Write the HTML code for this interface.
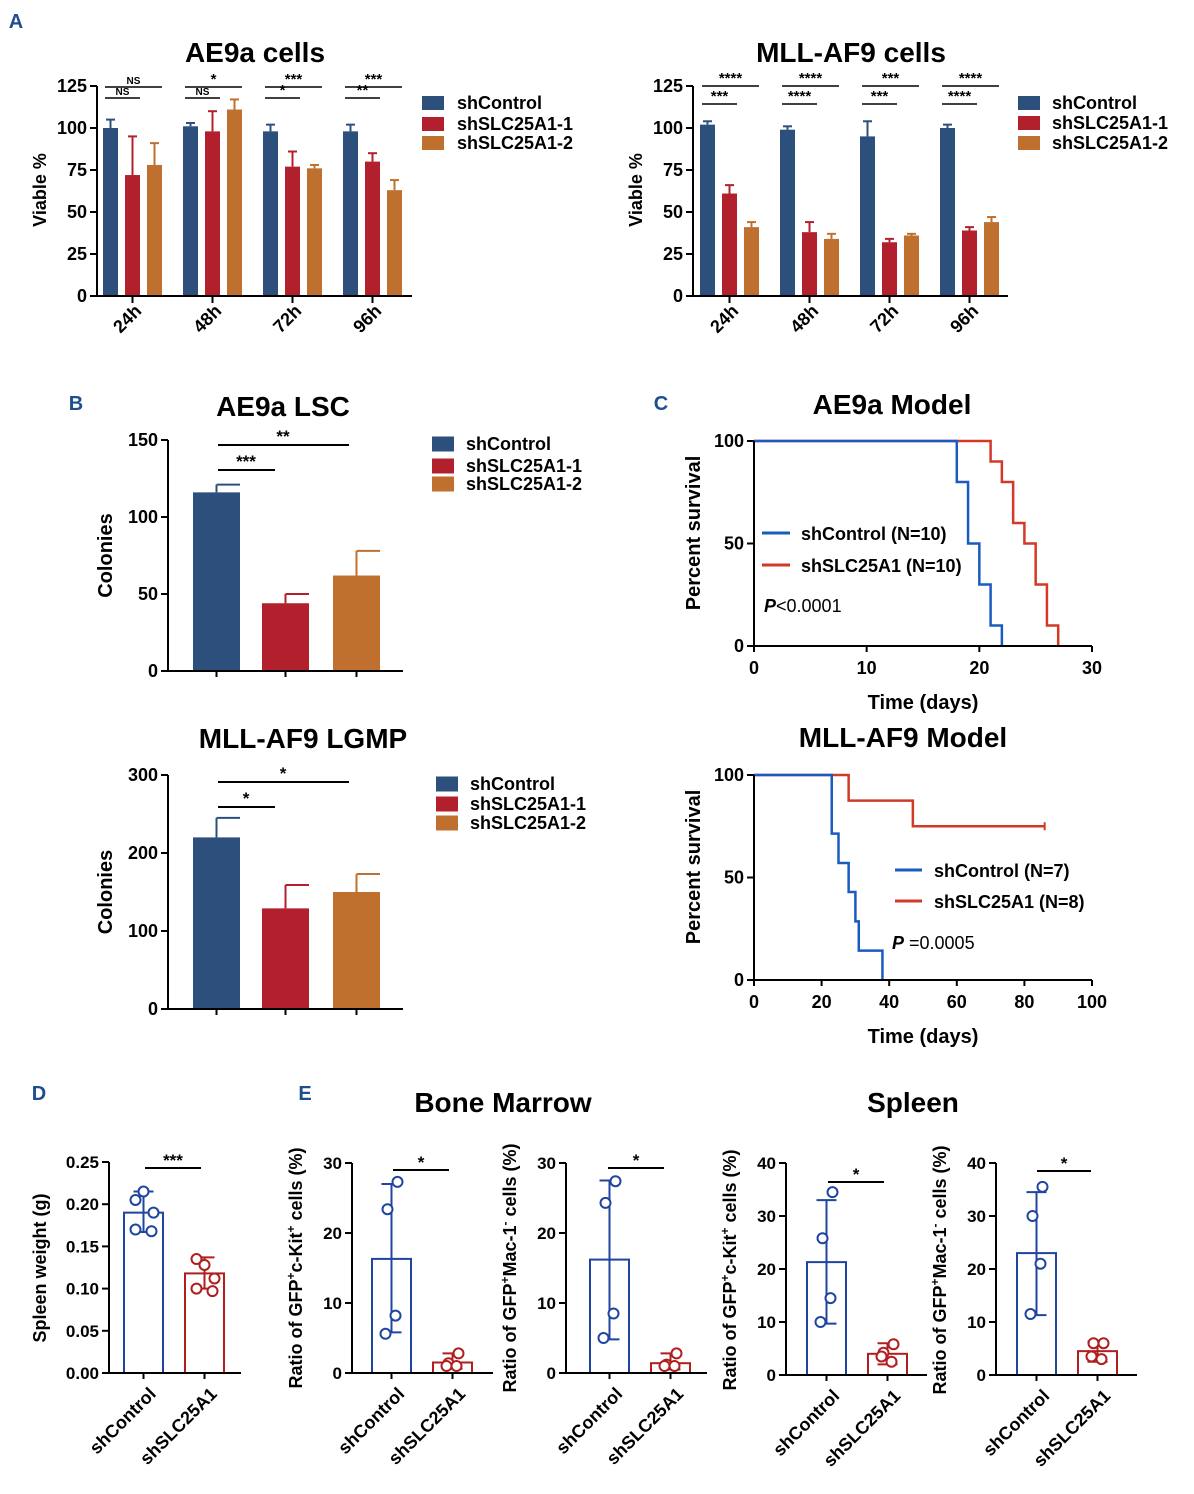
<!DOCTYPE html>
<html><head><meta charset="utf-8">
<style>
body{margin:0;background:#fff;}
svg{display:block;font-family:"Liberation Sans",Arial,sans-serif;font-weight:bold;}
</style></head>
<body>
<svg id="fig" width="1194" height="1494" viewBox="0 0 1194 1494" xmlns="http://www.w3.org/2000/svg"></svg>
<script>
// ---------- DATA ----------
const timeCats = ['24h','48h','72h','96h'];
const seriesNames = ['shControl','shSLC25A1-1','shSLC25A1-2'];
const aeCtrl = [100,101,98,98];       const aeCtrlErr = [105,103,102,102];
const aeSh1  = [72,98,77,80];         const aeSh1Err  = [95,110,86,85];
const aeSh2  = [78,111,76,63];        const aeSh2Err  = [91,117,78,69];
const mlCtrl = [102,99,95,100];       const mlCtrlErr = [104,101,104,102];
const mlSh1  = [61,38,32,39];         const mlSh1Err  = [66,44,34,41];
const mlSh2  = [41,34,36,44];         const mlSh2Err  = [44,37,37,47];
const viaTicks = [0,25,50,75,100,125];
// significance: [group, fromSeries, toSeries, level, label]
const aeSig = [[0,0,2,1,'NS'],[0,0,1,0,'NS'],[1,0,2,1,'*'],[1,0,1,0,'NS'],[2,0,2,1,'***'],[2,0,1,0,'*'],[3,0,2,1,'***'],[3,0,1,0,'**']];
const mlSig = [[0,0,2,1,'****'],[0,0,1,0,'***'],[1,0,2,1,'****'],[1,0,1,0,'****'],[2,0,2,1,'***'],[2,0,1,0,'***'],[3,0,2,1,'****'],[3,0,1,0,'****']];

const lscVals = [116,44,62]; const lscErr = [121,50,78]; const lscTicks=[0,50,100,150];
const lgmpVals = [220,129,150]; const lgmpErr = [245,159,173]; const lgmpTicks=[0,100,200,300];

const aeBlueT = [0,18,19,20,21,22]; const aeBlueS = [100,80,50,30,10,0];
const aeRedT  = [0,21,22,23,24,25,26,27]; const aeRedS = [100,90,80,60,50,30,10,0];
const aeXTicks = [0,10,20,30];
const mlBlueT = [0,23,25,28,30,31,38]; const mlBlueS = [100,71.4,57.1,42.9,28.6,14.3,0];
const mlRedT  = [0,28,47,86]; const mlRedS = [100,87.5,75,75];
const mlXTicks = [0,20,40,60,80,100];
const survTicks = [0,50,100];

const spCtrlMean = 0.19; const spCtrlErr=[0.167,0.215]; const spCtrlPts=[0.205,0.215,0.19,0.17,0.168];
const spShMean = 0.118; const spShErr=[0.100,0.137]; const spShPts=[0.135,0.128,0.112,0.100,0.097];
const spTicks=[0,0.05,0.10,0.15,0.20,0.25];

const bm1Ctrl=16.3, bm1CtrlErr=[5.8,27], bm1CtrlPts=[27.3,23.4,8.2,5.6];
const bm1Sh=1.5, bm1ShErr=[0.6,2.8], bm1ShPts=[2.8,1.4,1.0,1.0];
const bm2Ctrl=16.2, bm2CtrlErr=[4.8,27.5], bm2CtrlPts=[27.4,24.3,8.5,5.0];
const bm2Sh=1.4, bm2ShErr=[0.5,2.8], bm2ShPts=[2.8,1.2,1.0,1.0];
const spl1Ctrl=21.3, spl1CtrlErr=[9.7,33], spl1CtrlPts=[34.5,25.8,14.5,10.0];
const spl1Sh=4.0, spl1ShErr=[2.0,6.0], spl1ShPts=[5.8,4.2,2.5,3.5];
const spl2Ctrl=23, spl2CtrlErr=[11.3,34.5], spl2CtrlPts=[35.5,30,21,11.5];
const spl2Sh=4.5, spl2ShErr=[2.5,6.3], spl2ShPts=[6.0,6.0,3.0,3.5];

// ---------- HELPERS ----------
const NS='http://www.w3.org/2000/svg';
const svg=document.getElementById('fig');
const C={blue:'#2c4f7c',red:'#b3202d',orange:'#c0702e',sblue:'#1a5bbf',sred:'#d23a27',dblue:'#1f45a0',dred:'#b01e1e',lbl:'#1f4e8c'};
function mk(tag,attrs,name){const el=document.createElementNS(NS,tag);for(const k in attrs)el.setAttribute(k,attrs[k]);


svg.appendChild(el);return el;}
function T(x,y,s,size,name,anchor,rot,fill){const a={x:x,y:y,'font-size':size,'text-anchor':anchor||'middle',fill:fill||'#000'};
if(rot)a.transform='rotate('+rot+' '+x+' '+y+')';const el=mk('text',a,name);el.innerHTML=s;return el;}
function L(x1,y1,x2,y2,name,col,w){return mk('line',{x1:x1,y1:y1,x2:x2,y2:y2,stroke:col||'#000','stroke-width':w||2},name);}
function lin(d0,d1,r0,r1){return v=>r0+(v-d0)*(r1-r0)/(d1-d0);}
function yAxis(x,y,ticks,fmt,name,size){const yTop=y(ticks[ticks.length-1]),y0=y(ticks[0]);L(x,y0+1,x,yTop,name+'-line');
ticks.forEach(t=>{L(x-7,y(t),x,y(t),name+'-tick');T(x-10,y(t)+6,fmt?fmt(t):t,size||17,name+'-label','end');});}

// ---------- PANEL A ----------
function grouped(ax,xEnd,firstX,vals,errs,sig,prefix,levelY){
 const y=lin(0,125,296,86);
 const cols=[C.blue,C.red,C.orange];
 vals.forEach((ser,s)=>ser.forEach((v,g)=>{const x=firstX+g*80+s*22;
  L(x+7.5,y(errs[s][g]),x+7.5,y(v),prefix+'-errbar',cols[s],2);
  L(x+3,y(errs[s][g]),x+12,y(errs[s][g]),prefix+'-errcap',cols[s],2);
  mk('rect',{x:x,y:y(v),width:15,height:y(0)-y(v),fill:cols[s]},prefix+'-bar-'+timeCats[g]+'-'+s);}));
 yAxis(ax,y,viaTicks,null,prefix+'-y-axis',18);
 L(ax,296,xEnd,296,prefix+'-x-axis');
 timeCats.forEach((c,g)=>{const cx=firstX+g*80+29.5;L(cx,296,cx,303,prefix+'-x-tick');T(cx+10,312,c,18,prefix+'-x-label','end',-45);});
 sig.forEach(s=>{const x1=firstX+s[0]*80+s[1]*22+2,x2=firstX+s[0]*80+s[2]*22+15;const yy=levelY[s[3]];
  L(x1,yy,x2,yy,prefix+'-sig-line','#000',1.5);T((x1+x2)/2,yy-3,s[4],s[4]=='NS'?10:15,prefix+'-sig-label');});
}
T(16,28,'A',20,'panel-label-a','middle',0,C.lbl);
T(255,62,'AE9a cells',28,'ae9a-cells-title');
grouped(97,412,103,[aeCtrl,aeSh1,aeSh2],[aeCtrlErr,aeSh1Err,aeSh2Err],aeSig,'ae9a-cells',[98,87]);
T(46,190,'Viable %',18,'ae9a-y-title','middle',-90);
T(851,62,'MLL-AF9 cells',28,'mll-cells-title');
grouped(693,1008,700,[mlCtrl,mlSh1,mlSh2],[mlCtrlErr,mlSh1Err,mlSh2Err],mlSig,'mll-cells',[104,86]);
T(642,190,'Viable %',18,'mll-y-title','middle',-90);
function legend(x,tx,ys,h,name){const cols=[C.blue,C.red,C.orange];seriesNames.forEach((n,i)=>{mk('rect',{x:x,y:ys[i]-h/2-6,width:22,height:h,fill:cols[i]},name+'-swatch');T(tx,ys[i],n,18,name+'-entry','start');});}
legend(422,457,[109,130,149],14,'ae9a-cells-legend');
legend(1018,1052,[109,129,149],14,'mll-cells-legend');

// ---------- PANEL B ----------
function colonies(y0,yT,max,ticks,vals,errs,sig,sigY,prefix){
 const y=lin(0,max,y0,yT);const cols=[C.blue,C.red,C.orange];const xs=[193,262,333];
 vals.forEach((v,i)=>{L(xs[i]+23.5,y(errs[i]),xs[i]+23.5,y(v),prefix+'-errbar',cols[i],2);L(xs[i]+23.5,y(errs[i]),xs[i]+47,y(errs[i]),prefix+'-errcap',cols[i],2);
  mk('rect',{x:xs[i],y:y(v),width:47,height:y(0)-y(v),fill:cols[i]},prefix+'-bar-'+i);});
 yAxis(168,y,ticks,null,prefix+'-y-axis',18);L(168,y0,403,y0,prefix+'-x-axis');
 xs.forEach(x=>L(x+23.5,y0,x+23.5,y0+6,prefix+'-x-tick'));
 sig.forEach((s,k)=>{L(218,sigY[k],s[0]==1?275:349,sigY[k],prefix+'-sig-line','#000',2);T(s[0]==1?246:283,sigY[k]-3,s[1],17,prefix+'-sig-label');});
 T(112,y0-(y0-yT)/2,'Colonies',20,prefix+'-y-title','middle',-90);
}
T(76,410,'B',20,'panel-label-b','middle',0,C.lbl);
T(283,416,'AE9a LSC',28,'ae9a-lsc-title');
colonies(671,440,150,lscTicks,lscVals,lscErr,[[1,'***'],[2,'**']],[470,445],'ae9a-lsc');
legend(432,466,[450,472,490],15,'ae9a-lsc-legend');
T(303,748,'MLL-AF9 LGMP',28,'mll-lgmp-title');
colonies(1009,775,300,lgmpTicks,lgmpVals,lgmpErr,[[1,'*'],[2,'*']],[807,782],'mll-lgmp');
legend(436,470,[790,810,829],15,'mll-lgmp-legend');

// ---------- PANEL C ----------
function surv(y0,yT,xmax,xticks,bT,bS,rT,rS,prefix){
 const x=lin(0,xmax,754,1092),y=lin(0,100,y0,yT);
 function path(ts,ss){let d='M'+x(ts[0])+','+y(ss[0]);for(let i=1;i<ts.length;i++){d+='H'+x(ts[i])+'V'+y(ss[i]);}return d;}
 mk('path',{d:path(rT,rS),fill:'none',stroke:C.sred,'stroke-width':2.5},prefix+'-shslc25a1-curve');
 mk('path',{d:path(bT,bS),fill:'none',stroke:C.sblue,'stroke-width':2.5},prefix+'-shcontrol-curve');
 yAxis(754,y,survTicks,null,prefix+'-y-axis',18);
 L(754,y0,1092,y0,prefix+'-x-axis');
 xticks.forEach(t=>{L(x(t),y0,x(t),y0+6,prefix+'-x-tick');T(x(t),y0+28,t,18,prefix+'-x-label');});
 T(923,y0+63,'Time (days)',20,prefix+'-x-title');
 T(700,y0-113,'Percent survival',20,prefix+'-y-title','middle',-90);
 return {x,y};
}
T(661,410,'C',20,'panel-label-c','middle',0,C.lbl);
T(892,414,'AE9a Model',28,'ae9a-model-title');
const s1=surv(646,441,30,aeXTicks,aeBlueT,aeBlueS,aeRedT,aeRedS,'ae9a-model');
L(762,533,790,533,'ae9a-model-legend-blue-line',C.sblue,3);T(801,540,'shControl (N=10)',18,'ae9a-model-legend-entry','start');
L(762,565,790,565,'ae9a-model-legend-red-line',C.sred,3);T(801,572,'shSLC25A1 (N=10)',18,'ae9a-model-legend-entry','start');
T(764,612,'<tspan font-style="italic">P</tspan><tspan font-weight="normal">&lt;0.0001</tspan>',18,'ae9a-model-pvalue','start');
T(903,747,'MLL-AF9 Model',28,'mll-model-title');
const s2=surv(980,775,100,mlXTicks,mlBlueT,mlBlueS,mlRedT,mlRedS,'mll-model');
L(s2.x(mlRedT[mlRedT.length-1]),s2.y(75)-4,s2.x(mlRedT[mlRedT.length-1]),s2.y(75)+4,'mll-model-censor-tick',C.sred,2);
L(895,870,922,870,'mll-model-legend-blue-line',C.sblue,3);T(934,877,'shControl (N=7)',18,'mll-model-legend-entry','start');
L(895,901,922,901,'mll-model-legend-red-line',C.sred,3);T(934,908,'shSLC25A1 (N=8)',18,'mll-model-legend-entry','start');
T(892,949,'<tspan font-style="italic">P</tspan><tspan font-weight="normal"> =0.0005</tspan>',18,'mll-model-pvalue','start');

// ---------- PANELS D, E ----------
function dot(ax,xEnd,y0,yT,max,ticks,fmt,b1,w,c,ce,cp,s,se,sp,sigX,sigY,ytitle,prefix){
 const y=lin(0,max,y0,yT);
 const groups=[[b1,c,ce,cp,C.dblue,'shcontrol'],[b1+61,s,se,sp,C.dred,'shslc25a1']];
 groups.forEach(g=>{const x=g[0],cx=x+w/2;
  mk('rect',{x:x,y:y(g[1]),width:w,height:y(0)-y(g[1]),fill:'#fff',stroke:g[4],'stroke-width':2},prefix+'-bar-'+g[5]);
  L(cx,y(g[2][0]),cx,y(g[2][1]),prefix+'-errbar',g[4],2);
  L(cx-10,y(g[2][0]),cx+10,y(g[2][0]),prefix+'-errcap',g[4],2);L(cx-10,y(g[2][1]),cx+10,y(g[2][1]),prefix+'-errcap',g[4],2);
  const offs=[6,-4,4,-6];
  g[3].forEach((p,i)=>{mk('circle',{cx:cx+offs[i%4],cy:y(p),r:5,fill:'#fff',stroke:g[4],'stroke-width':2},prefix+'-point-'+g[5]);});
 });
 yAxis(ax,y,ticks,fmt,prefix+'-y-axis',17);L(ax,y0,xEnd,y0,prefix+'-x-axis');
 groups.forEach(g=>{const cx=g[0]+w/2;L(cx,y0,cx,y0+6,prefix+'-x-tick');});
 T(b1+w/2+14,y0+22,'shControl',18,prefix+'-x-label','end',-45);
 T(b1+61+w/2+14,y0+22,'shSLC25A1',18,prefix+'-x-label','end',-45);
 L(sigX[0],sigY,sigX[1],sigY,prefix+'-sig-line','#000',2);T((sigX[0]+sigX[1])/2,sigY-2,sigX[2],17,prefix+'-sig-label');
 T(ax-50,y0-105,ytitle,18,prefix+'-y-title','middle',-90);
}
T(39,1100,'D',20,'panel-label-d','middle',0,C.lbl);
T(305,1100,'E',20,'panel-label-e','middle',0,C.lbl);
(function(){
 const y=lin(0,0.25,1373,1162);
 const groups=[[124,spCtrlMean,spCtrlErr,spCtrlPts,C.dblue,'shcontrol'],[185,spShMean,spShErr,spShPts,C.dred,'shslc25a1']];
 groups.forEach(g=>{const x=g[0],cx=x+19.5;
  mk('rect',{x:x,y:y(g[1]),width:39,height:y(0)-y(g[1]),fill:'#fff',stroke:g[4],'stroke-width':2},'spleen-weight-bar-'+g[5]);
  L(cx,y(g[2][0]),cx,y(g[2][1]),'spleen-weight-errbar',g[4],2);
  L(cx-10,y(g[2][0]),cx+10,y(g[2][0]),'spleen-weight-errcap',g[4],2);L(cx-10,y(g[2][1]),cx+10,y(g[2][1]),'spleen-weight-errcap',g[4],2);
  const offs=[-8,0,10,-8,8];
  g[3].forEach((p,i)=>mk('circle',{cx:cx+offs[i],cy:y(p),r:5,fill:'#fff',stroke:g[4],'stroke-width':2},'spleen-weight-point-'+g[5]));
 });
 yAxis(109,y,spTicks,t=>t.toFixed(2),'spleen-weight-y-axis',17);L(109,1373,241,1373,'spleen-weight-x-axis');
 [143.5,204.5].forEach(cx=>L(cx,1373,cx,1379,'spleen-weight-x-tick'));
 T(157,1395,'shControl',18,'spleen-weight-x-label','end',-45);
 T(218,1395,'shSLC25A1',18,'spleen-weight-x-label','end',-45);
 L(145,1168,201,1168,'spleen-weight-sig-line');T(173,1166,'***',17,'spleen-weight-sig-label');
 T(46,1268,'Spleen weight (g)',18,'spleen-weight-y-title','middle',-90);
})();
T(503,1112,'Bone Marrow',28,'bone-marrow-title');
T(913,1112,'Spleen',28,'spleen-title');
dot(352,493,1373,1163,30,[0,10,20,30],null,372,39,bm1Ctrl,bm1CtrlErr,bm1CtrlPts,bm1Sh,bm1ShErr,bm1ShPts,[393,449,'*'],1170,
 'Ratio of GFP<tspan baseline-shift="super" font-size="12">+</tspan>c-Kit<tspan baseline-shift="super" font-size="12">+</tspan> cells (%)','bm-ckit');
dot(566,707,1373,1163,30,[0,10,20,30],null,590,39,bm2Ctrl,bm2CtrlErr,bm2CtrlPts,bm2Sh,bm2ShErr,bm2ShPts,[608,664,'*'],1168,
 'Ratio of GFP<tspan baseline-shift="super" font-size="12">+</tspan>Mac-1<tspan baseline-shift="super" font-size="12">-</tspan> cells (%)','bm-mac1');
dot(786,927,1375,1163,40,[0,10,20,30,40],null,807,39,spl1Ctrl,spl1CtrlErr,spl1CtrlPts,spl1Sh,spl1ShErr,spl1ShPts,[828,884,'*'],1182,
 'Ratio of GFP<tspan baseline-shift="super" font-size="12">+</tspan>c-Kit<tspan baseline-shift="super" font-size="12">+</tspan> cells (%)','spleen-ckit');
dot(996,1137,1375,1163,40,[0,10,20,30,40],null,1017,39,spl2Ctrl,spl2CtrlErr,spl2CtrlPts,spl2Sh,spl2ShErr,spl2ShPts,[1037,1091,'*'],1171,
 'Ratio of GFP<tspan baseline-shift="super" font-size="12">+</tspan>Mac-1<tspan baseline-shift="super" font-size="12">-</tspan> cells (%)','spleen-mac1');
</script>
</body></html>
